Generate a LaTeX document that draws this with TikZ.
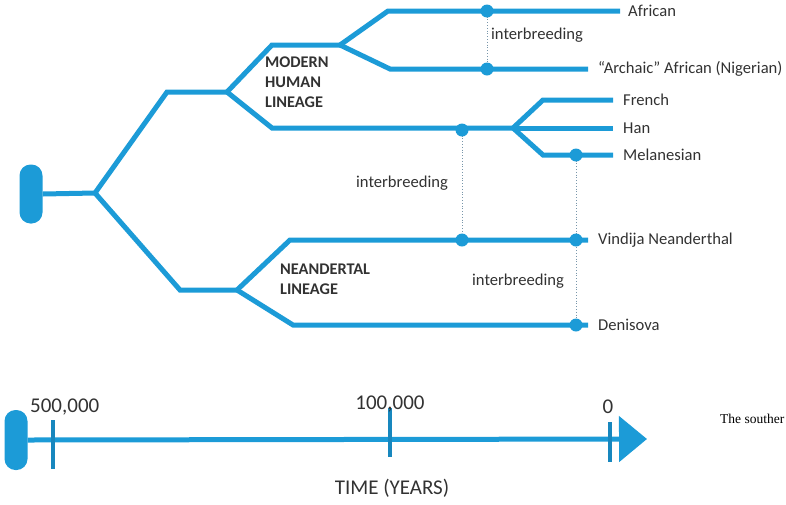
\documentclass[tikz,border=0pt]{standalone}
\usepackage{fontspec}
\setmainfont{Carlito}
\newfontfamily\serifx{Liberation Serif}
\usetikzlibrary{arrows.meta}
\definecolor{lineblue}{RGB}{28,155,215}
\definecolor{tickblue}{RGB}{24,135,190}
\definecolor{txt}{RGB}{50,50,50}
\definecolor{dotc}{RGB}{120,150,170}
\begin{document}
\begin{tikzpicture}[x=1pt,y=-1pt,
  branch/.style={draw=lineblue,line width=5pt},
  dotpt/.style={circle,fill=lineblue,inner sep=0pt,minimum size=13pt},
  link/.style={draw=dotc,line width=0.8pt,dotted},
  lab/.style={text=txt,font=\fontsize{16.6}{19}\selectfont,inner sep=0pt,anchor=west},
  lin/.style={text=txt,font=\bfseries\fontsize{16.3}{20}\selectfont,align=left,inner sep=0pt,anchor=north west},
  tlab/.style={text=txt,font=\fontsize{21}{24}\selectfont,inner sep=0pt},
  pill/.style={fill=lineblue,rounded corners=11pt,inner sep=0pt,minimum width=23pt},
  tickmark/.style={draw=tickblue,line width=4pt}
]
\useasboundingbox (0,0) rectangle (786,504);
% root
\node[pill,minimum height=59pt] (root) at (31,194) {};
% coordinates
\coordinate (b0) at (95,193);
\coordinate (u1) at (167,92);
\coordinate (u2) at (227,92);
\coordinate (uu1) at (272,45);
\coordinate (uu2) at (340,45);
\coordinate (af1) at (388,11);
\coordinate (afend) at (620,11);
\coordinate (ar1) at (390,69);
\coordinate (arend) at (588,69);
\coordinate (mid1) at (272,128);
\coordinate (split) at (513,128);
\coordinate (fr1) at (543,100);
\coordinate (frend) at (613,100);
\coordinate (hanend) at (613,128);
\coordinate (me1) at (543,155);
\coordinate (meend) at (613,155);
\coordinate (l1) at (180,290);
\coordinate (l2) at (237,290);
\coordinate (v1) at (290,240);
\coordinate (vend) at (588,240);
\coordinate (d1) at (293,325);
\coordinate (dend) at (588,325);
% branches
\draw[branch] (root.east) -- (b0);
\draw[branch] (b0) -- (u1) -- (u2);
\draw[branch] (u2) -- (uu1) -- (uu2);
\draw[branch] (uu2) -- (af1) -- (afend);
\draw[branch] (uu2) -- (ar1) -- (arend);
\draw[branch] (u2) -- (mid1) -- (split);
\draw[branch] (split) -- (fr1) -- (frend);
\draw[branch] (split) -- (hanend);
\draw[branch] (split) -- (me1) -- (meend);
\draw[branch] (b0) -- (l1) -- (l2);
\draw[branch] (l2) -- (v1) -- (vend);
\draw[branch] (l2) -- (d1) -- (dend);
% interbreeding links
\coordinate (afd) at (487,11);
\coordinate (ard) at (487,69);
\coordinate (md) at (462,130);
\coordinate (vd1) at (462,240);
\coordinate (med) at (576,155);
\coordinate (vd2) at (576,240);
\coordinate (dd) at (576,325);
\draw[link] (afd) -- (ard);
\draw[link] (md) -- (vd1);
\draw[link] (med) -- (dd);
\foreach \p in {afd,ard,md,vd1,med,vd2,dd} \node[dotpt] at (\p) {};
% labels
\node[lab] (african) at (628,11) {African};
\node[lab] (archaic) at (598,69) {“Archaic” African (Nigerian)};
\node[lab] (french) at (623,100) {French};
\node[lab] (han) at (623,128) {Han};
\node[lab] (mel) at (623,155) {Melanesian};
\node[lab] (vin) at (598,240) {Vindija Neanderthal};
\node[lab] (den) at (598,325) {Denisova};
\node[lab,anchor=center] (ib1) at (537,35) {interbreeding};
\node[lab,anchor=center] (ib2) at (402,183) {interbreeding};
\node[lab,anchor=center] (ib3) at (518,281) {interbreeding};
\node[lin] (mhl) at (265,57) {MODERN\\HUMAN\\LINEAGE};
\node[lin] (nl) at (280,264) {NEANDERTAL\\LINEAGE};
% timeline
\node[pill,minimum height=60pt] (tpill) at (16,440) {};
\coordinate (tip) at (647,439);
\draw[draw=lineblue,line width=5pt,-{Triangle[length=28pt,width=45pt]}] (tpill.east) -- (tip);
\draw[tickmark] (53,420) -- (53,469);
\draw[tickmark] (390,408) -- (390,457);
\draw[tickmark] (610,422) -- (610,462);
\node[tlab,anchor=west] (t500) at (30,407) {500,000};
\node[tlab] (t100) at (390,404) {100,000};
\node[tlab] (t0) at (608,407) {0};
\node[tlab] (time) at (392,488) {TIME (YEARS)};
\node[inner sep=0pt,anchor=west,font=\serifx\fontsize{13.5}{15}\selectfont] (south) at (720,419) {The souther};
\end{tikzpicture}
\end{document}
